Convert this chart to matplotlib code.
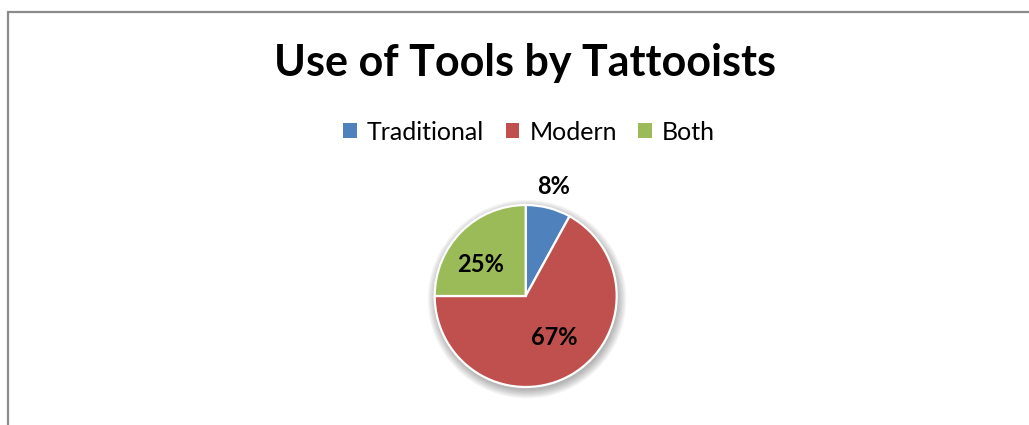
import numpy as np
import matplotlib
matplotlib.use("Agg")
import matplotlib.pyplot as plt
from matplotlib.patches import Circle, Rectangle

# tool usage shares
categories = ["Traditional", "Modern", "Both"]
shares = [8, 67, 25]
colors = ["#4F81BD", "#C0504D", "#9BBB59"]
label_r = [1.24, 0.56, 0.60]       # radial position of each % label
label_dang = [0.0, 4.0, 10.0]      # small angular nudge (deg) of each label

W, H, DPI = 1029, 425, 100
fig = plt.figure(figsize=(W / DPI, H / DPI), dpi=DPI)
fig.patch.set_facecolor("white")

# chart-area frame (only the top and left edges fall inside the image)
frame = Rectangle((7.5 / W, -0.1), 1.2, (H - 11.5) / H + 0.1, transform=fig.transFigure,
                  fill=False, edgecolor="#8c8c8c", linewidth=1.6)
fig.add_artist(frame)

fig.text(525 / W, 1 - 63 / H, "Use of Tools by Tattooists", ha="center", va="center",
         fontsize=31, fontweight="bold", family=["Lato", "DejaVu Sans"])

# pie placed in pixel terms: centre (525.7, 296), radius 91
cx, cy, R, half = 525.7, 296.0, 91.0, 1.2
ax = fig.add_axes([(cx - half * R) / W, (H - cy - half * R) / H, 2 * half * R / W, 2 * half * R / H])

# soft drop shadow
for i in range(8):
    ax.add_patch(Circle((0.015, -0.035), 1.0 + 0.013 * i, facecolor="black",
                        alpha=0.04, edgecolor="none", zorder=0))

wedges, _ = ax.pie(shares, colors=colors, startangle=90, counterclock=False, radius=1.0,
                   wedgeprops=dict(edgecolor="white", linewidth=1.6), frame=True)
ax.set_xlim(-half, half); ax.set_ylim(-half, half); ax.set_aspect("equal"); ax.axis("off")

for w, v, r, da in zip(wedges, shares, label_r, label_dang):
    a = np.deg2rad((w.theta1 + w.theta2) / 2 + da)
    ax.text(r * np.cos(a), r * np.sin(a), f"{v}%", ha="center", va="center",
            fontsize=17, fontweight="bold", family=["Lato", "DejaVu Sans"], color="black")

handles = [Rectangle((0, 0), 1, 1, facecolor=c, edgecolor="none") for c in colors]
leg = fig.legend(handles, categories, loc="center", bbox_to_anchor=(529 / W, 1 - 132 / H), ncol=3,
                 frameon=False, handlelength=0.55, handleheight=0.55, handletextpad=0.4,
                 columnspacing=0.85, prop=dict(family=["Lato", "DejaVu Sans"], size=18))

fig.savefig("out.png", dpi=DPI, facecolor="white")
